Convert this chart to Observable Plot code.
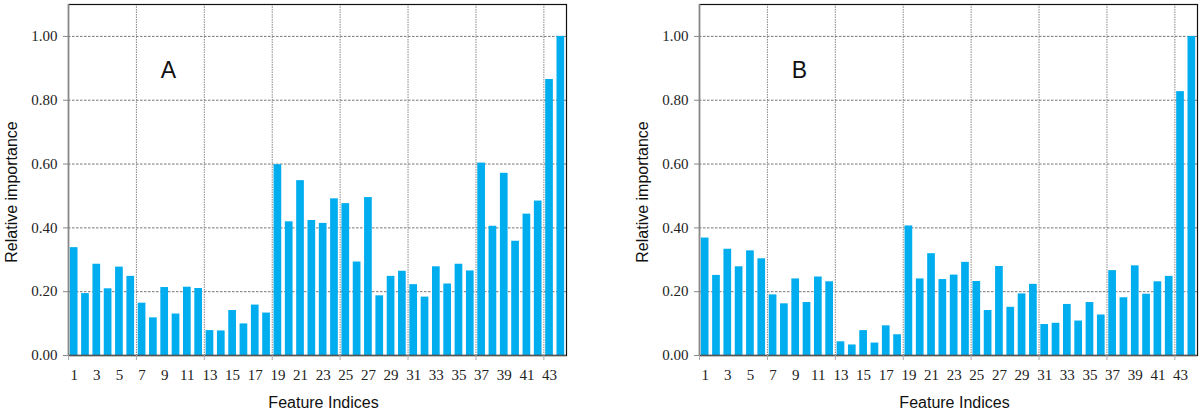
<!DOCTYPE html>
<html><head><meta charset="utf-8">
<script src="https://cdn.jsdelivr.net/npm/d3@7"></script>
<script src="https://cdn.jsdelivr.net/npm/@observablehq/plot@0.6"></script>
<style>
body{margin:0;background:#fff}
#wrap{display:flex;width:1200px;height:409px;overflow:hidden}
#wrap svg{display:block;flex:none}
</style>
</head><body><div id="wrap"></div>
<script>
// ---- data ----
const featureIndices = d3.range(1, 45);
const importanceA = [
  0.338, 0.194, 0.286, 0.209, 0.277, 0.248, 0.164, 0.118, 0.213, 0.130,
  0.214, 0.210, 0.078, 0.077, 0.141, 0.099, 0.158, 0.133, 0.598, 0.419,
  0.548, 0.423, 0.414, 0.491, 0.476, 0.293, 0.495, 0.187, 0.248, 0.264,
  0.222, 0.183, 0.278, 0.224, 0.286, 0.265, 0.603, 0.405, 0.571, 0.358,
  0.443, 0.484, 0.865, 1.000
];
const importanceB = [
  0.368, 0.251, 0.333, 0.278, 0.328, 0.303, 0.190, 0.162, 0.240, 0.166,
  0.246, 0.231, 0.043, 0.033, 0.078, 0.039, 0.093, 0.065, 0.406, 0.240,
  0.319, 0.238, 0.252, 0.292, 0.232, 0.141, 0.279, 0.151, 0.193, 0.223,
  0.097, 0.101, 0.160, 0.108, 0.166, 0.127, 0.266, 0.181, 0.281, 0.192,
  0.231, 0.248, 0.827, 1.000
];
const panelLabels = ["A", "B"];
const xTickLabels = d3.range(1, 44, 2);
const groupBoundaries = [0.5, 6.5, 12.5, 18.5, 24.5, 30.5, 36.5, 42.5];
const yTicks = [0, 0.2, 0.4, 0.6, 0.8, 1.0];
const xTitle = "Feature Indices";
const yTitle = "Relative importance";

const barColor = "#00aeef";
const sans = "'Liberation Sans', Arial, sans-serif";
const serif = "'Liberation Serif', 'Times New Roman', serif";
const fmt = d3.format(".2f");

function panel(values, label, marginLeft, marginRight) {
  const data = featureIndices.map((f, i) => ({f, v: values[i]}));
  return Plot.plot({
    width: 600,
    height: 409,
    marginLeft, marginRight,
    marginTop: 4,
    marginBottom: 54,
    style: {background: "white", overflow: "visible"},
    x: {type: "linear", domain: [0.5, 44.5], axis: null},
    y: {domain: [0, 1.1], axis: null},
    marks: [
      Plot.ruleY(yTicks.filter(d => d > 0), {stroke: "#777", strokeDasharray: "2.5,1.5", strokeWidth: 1}),
      Plot.ruleX(groupBoundaries.slice(1), {stroke: "#888", strokeDasharray: "1.5,1", strokeWidth: 1}),
      Plot.rectY(data, {x1: d => d.f - 0.34, x2: d => d.f + 0.34, y: "v", fill: barColor}),
      Plot.frame({stroke: "#111", strokeWidth: 1.2}),
      Plot.ruleX(groupBoundaries.slice(0, 1), {stroke: "#888", strokeWidth: 1.5}),
      Plot.ruleY([0], {stroke: "#555", strokeWidth: 1.5}),
      // tick marks (no labels)
      Plot.axisX({ticks: groupBoundaries, tickSize: 5, tickFormat: () => "", stroke: "#aaa", label: null}),
      Plot.axisY({ticks: yTicks, tickSize: 5, tickFormat: () => "", stroke: "#888", label: null}),
      // tick labels
      Plot.text(xTickLabels, {x: d => d, frameAnchor: "bottom", dy: 24.5, textAnchor: "middle", fontSize: 15, fontFamily: serif, fill: "#222"}),
      Plot.text(yTicks, {y: d => d, frameAnchor: "left", dx: -11, text: d => fmt(d), textAnchor: "end", fontSize: 15, fontFamily: serif, fill: "#222"}),
      Plot.text([label], {frameAnchor: "top-left", dx: 100, dy: 73, lineAnchor: "bottom", textAnchor: "middle", fontSize: 23, fontFamily: sans, fill: "#111"}),
      Plot.text([yTitle], {frameAnchor: "left", rotate: -90, dx: -52, dy: 12, lineAnchor: "bottom", textAnchor: "middle", fontSize: 16, fontFamily: sans, fill: "#111"}),
      Plot.text([xTitle], {frameAnchor: "bottom", dx: 6, dy: 52, lineAnchor: "bottom", textAnchor: "middle", fontSize: 16, fontFamily: sans, fill: "#111"})
    ]
  });
}

const wrap = document.getElementById("wrap");
wrap.append(panel(importanceA, panelLabels[0], 68, 34));
wrap.append(panel(importanceB, panelLabels[1], 99, 3));
</script>
</body></html>
